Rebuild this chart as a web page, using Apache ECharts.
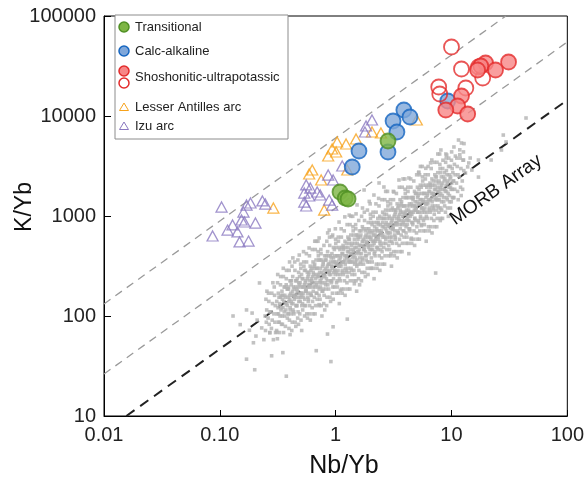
<!DOCTYPE html>
<html>
<head>
<meta charset="utf-8">
<script src="https://cdn.jsdelivr.net/npm/echarts@6/dist/echarts.min.js"></script>
<style>
  html, body { margin: 0; padding: 0; background: #fff; }
  #chart { width: 587px; height: 479px; }
</style>
</head>
<body>
<div id="chart"></div>
<script>
// Nb/Yb vs K/Yb discrimination diagram

const xTickLabels = ['0.01', '0.10', '1', '10', '100'];
const yTickLabels = ['10', '100', '1000', '10000', '100000'];

// Reference trends [Nb/Yb, K/Yb]
const upperLine = [[0.01, 132], [29.5, 100000]];
const lowerLine = [[0.01, 26.3], [100, 55000]];
const morbLine = [[0.0156, 10], [100, 14450]];

const transitional = [[1.09, 1738], [1.21, 1514], [1.28, 1479], [2.83, 5623]];

const calcAlkaline = [
  [3.88, 11482], [4.38, 9772], [3.13, 8913], [3.38, 6918],
  [1.59, 4467], [1.39, 3090], [2.83, 4365], [9.29, 14125]
];

const shoshoniticFilled = [
  [31.1, 34674], [19.7, 33884], [17.9, 31623], [16.8, 28840], [24.0, 28840],
  [12.2, 15849], [11.3, 12589], [8.93, 11482], [13.8, 10471]
];

const shoshoniticOpen = [
  [10.0, 48978], [12.2, 29512], [18.6, 23988], [7.76, 19498],
  [7.92, 16596], [13.3, 19055], [17.1, 30903]
];

const lesserAntilles = [
  [0.290, 1202], [0.591, 2630], [0.628, 2884], [0.750, 2291], [0.796, 1148],
  [0.862, 3981], [0.933, 4677], [1.01, 4365], [1.03, 5495], [1.23, 5248],
  [1.50, 5888], [2.06, 6918], [2.46, 6761], [5.02, 9120], [1.26, 2884]
];

const izu = [
  [0.1035, 1230], [0.0866, 631], [0.1166, 724], [0.1288, 813], [0.142, 692],
  [0.154, 912], [0.160, 1096], [0.170, 1288], [0.184, 1349], [0.203, 851],
  [0.148, 550], [0.177, 562], [0.233, 1413], [0.247, 1318], [0.163, 871],
  [0.557, 2042], [0.604, 1905], [0.536, 1698], [0.536, 1380], [0.557, 1259],
  [0.591, 1585], [0.736, 1622], [0.862, 2570], [0.951, 2291], [0.879, 1445],
  [0.933, 1288], [1.14, 3162], [1.79, 6918], [1.83, 7943], [2.06, 9120],
  [0.693, 1738]
];

// MORB compilation, grouped in narrow Nb/Yb bins: [Nb/Yb values], [K/Yb values]
const morbBins = [
  [[.250,.254,.246,.252,.248,.255],[147,115,100,86.7,71.6,177]],
  [[.265,.269,.261,.267,.263,.270],[140,110,95.3,82.6,169,68.3]],
  [[.281,.285,.277,.283,.279,.287],[169,133,110,90.9,75.1,215]],
  [[.297,.301,.293,.299,.295,.303],[161,127,105,86.7,195,68.3]],
  [[.315,.320,.310,.318,.312,.321,.309,.316,.314],[215,169,140,121,105,86.7,71.6,260,59.2]],
  [[.334,.339,.329,.337,.331,.341,.327,.335,.333],[205,161,133,115,100,82.6,68.3,248,154]],
  [[.354,.359,.349,.357,.351,.361,.347,.355,.353],[248,195,161,140,121,100,82.6,68.3,300]],
  [[.375,.381,.369,.378,.372,.383,.368,.376,.374],[236,186,154,133,115,95.3,78.8,286,205]],
  [[.397,.403,.391,.400,.394,.405,.389,.399,.395,.402,.392,.404],[286,225,186,161,140,121,105,90.9,75.1,147,195,65.1]],
  [[.420,.426,.414,.423,.417,.428,.412,.422,.418,.425,.415,.427],[315,248,205,161,133,115,105,86.7,71.6,177,225,381]],
  [[.445,.452,.438,.449,.441,.454,.436,.447,.443,.450,.440,.453],[286,225,186,161,147,127,105,86.7,347,195,154,78.8]],
  [[.472,.479,.465,.476,.468,.481,.463,.474,.470,.478,.466,.480],[363,273,236,195,169,154,127,110,95.3,82.6,177,215]],
  [[.500,.508,.493,.504,.496,.510,.490,.502,.498,.506,.494,.509],[300,260,215,169,154,127,105,90.9,330,195,140,71.6]],
  [[.530,.538,.522,.534,.526,.541,.519,.532,.528,.536,.524,.539],[347,286,236,195,154,127,115,315,440,205,169,100]],
  [[.561,.569,.553,.566,.557,.572,.550,.563,.559,.568,.554,.571],[347,273,225,195,177,154,127,105,420,236,186,95.3]],
  [[.594,.603,.585,.599,.589,.606,.582,.596,.592,.601,.587,.604],[400,315,260,225,195,169,147,127,105,205,273,90.9]],
  [[.629,.638,.620,.634,.624,.642,.616,.632,.627,.637,.622,.640],[462,347,300,248,215,195,161,140,121,105,225,273]],
  [[.667,.677,.657,.672,.662,.680,.654,.670,.664,.675,.659,.678],[462,363,300,236,195,169,154,127,105,260,330,559]],
  [[.706,.717,.695,.712,.700,.720,.692,.709,.703,.714,.698,.718],[440,363,300,248,195,161,147,400,559,260,215,127]],
  [[.748,.759,.737,.754,.742,.763,.733,.751,.745,.757,.739,.761],[420,363,300,236,215,177,147,127,462,273,195,100]],
  [[.792,.804,.780,.798,.786,.808,.776,.795,.789,.802,.782,.805],[508,400,330,286,248,215,186,161,133,260,347,115]],
  [[.839,.852,.826,.846,.832,.856,.822,.842,.836,.849,.829,.853],[559,440,363,286,236,205,186,154,127,315,400,677]],
  [[.889,.902,.876,.896,.882,.907,.871,.893,.885,.900,.878,.904],[508,400,330,286,260,225,186,154,615,347,273,140]],
  [[.942,.956,.928,.950,.934,.961,.923,.946,.938,.953,.931,.958],[645,484,420,347,300,273,225,195,169,147,315,381]],
  [[.998,1.013,.983,1.006,.990,1.018,.978,1.002,.994,1.010,.986,1.015],[586,484,400,330,260,215,195,533,745,347,286,169]],
  [[1.057,1.073,1.041,1.065,1.049,1.078,1.036,1.061,1.053,1.070,1.044,1.075],[559,484,400,315,286,236,195,169,615,363,260,133]],
  [[1.12,1.137,1.103,1.129,1.111,1.142,1.098,1.124,1.116,1.133,1.107,1.139],[615,484,400,347,315,273,225,186,745,420,330,169]],
  [[1.186,1.204,1.168,1.195,1.177,1.21,1.162,1.191,1.181,1.2,1.172,1.206],[710,559,462,400,347,300,260,225,186,363,484,161]],
  [[1.256,1.275,1.237,1.266,1.246,1.281,1.231,1.261,1.251,1.271,1.241,1.277],[820,615,533,440,381,347,286,248,215,186,400,484]],
  [[1.331,1.351,1.311,1.342,1.32,1.358,1.304,1.336,1.326,1.347,1.315,1.354],[820,645,533,420,347,300,273,225,186,462,586,993]],
  [[1.41,1.431,1.389,1.421,1.399,1.438,1.382,1.416,1.404,1.427,1.393,1.434],[781,645,533,440,347,286,260,710,993,462,381,225]],
  [[1.493,1.515,1.471,1.505,1.481,1.523,1.463,1.499,1.487,1.511,1.475,1.518],[745,645,533,420,381,315,260,225,820,484,347,177]],
  [[1.582,1.606,1.558,1.595,1.569,1.614,1.55,1.588,1.576,1.601,1.563,1.609],[902,710,586,508,440,381,330,286,236,462,615,205]],
  [[1.676,1.701,1.651,1.689,1.663,1.71,1.642,1.683,1.669,1.696,1.656,1.705],[993,781,645,508,420,363,330,273,225,559,710,1202]],
  [[1.775,1.802,1.748,1.789,1.761,1.811,1.74,1.782,1.768,1.796,1.754,1.805],[902,710,586,508,462,400,330,273,1092,615,484,248]],
  [[1.88,1.908,1.852,1.895,1.865,1.918,1.842,1.888,1.872,1.903,1.857,1.912],[1146,860,745,615,533,484,400,347,300,260,559,677]],
  [[1.992,2.022,1.962,2.008,1.976,2.032,1.952,2.0,1.984,2.016,1.968,2.026],[1041,860,710,586,462,381,347,946,1322,615,508,300]],
  [[2.11,2.142,2.078,2.127,2.093,2.152,2.068,2.118,2.102,2.135,2.085,2.146],[993,860,710,559,508,420,347,300,1092,645,462,236]],
  [[2.235,2.269,2.201,2.253,2.217,2.28,2.19,2.244,2.226,2.262,2.208,2.273],[1092,860,710,615,559,484,400,330,1322,745,586,300]],
  [[2.368,2.404,2.332,2.387,2.349,2.415,2.321,2.377,2.359,2.396,2.34,2.408],[1261,993,820,710,615,533,462,400,330,645,860,286]],
  [[2.508,2.546,2.47,2.528,2.488,2.558,2.458,2.518,2.498,2.538,2.478,2.551],[1455,1092,946,781,677,615,508,440,381,330,710,860]],
  [[2.657,2.697,2.617,2.678,2.636,2.71,2.604,2.668,2.646,2.689,2.625,2.702],[1455,1146,946,745,615,533,484,400,330,820,1041,1762]],
  [[2.814,2.856,2.772,2.837,2.791,2.87,2.758,2.825,2.803,2.848,2.78,2.862],[1387,1146,946,781,615,508,462,1261,1762,820,677,400]],
  [[2.981,3.026,2.936,3.005,2.957,3.041,2.921,2.993,2.969,3.017,2.945,3.032],[1322,1146,946,745,677,559,462,400,1455,860,615,315]],
  [[3.158,3.205,3.111,3.183,3.133,3.221,3.095,3.171,3.145,3.196,3.12,3.212],[1455,1146,946,820,745,645,533,440,1762,993,781,400]],
  [[3.345,3.395,3.295,3.372,3.318,3.412,3.278,3.358,3.332,3.385,3.305,3.402],[1680,1322,1092,946,820,710,615,533,440,860,1146,381]],
  [[3.544,3.597,3.491,3.572,3.516,3.615,3.473,3.558,3.53,3.587,3.502,3.604],[1939,1455,1261,1041,902,820,677,586,508,440,946,1146]],
  [[3.754,3.81,3.698,3.784,3.724,3.829,3.679,3.769,3.739,3.799,3.709,3.818],[1939,1527,1261,993,820,710,645,533,440,1092,1387,2348]],
  [[3.976,4.036,3.916,4.008,3.944,4.056,3.896,3.992,3.96,4.024,3.928,4.044],[1849,1527,1261,1041,820,677,615,1680,2348,1092,902,533]],
  [[4.212,4.275,4.149,4.246,4.178,4.296,4.128,4.229,4.195,4.263,4.161,4.284],[1762,1527,1261,993,902,745,615,533,1939,1146,820,420]],
  [[4.462,4.529,4.395,4.498,4.426,4.551,4.373,4.48,4.444,4.516,4.409,4.538],[1939,1527,1261,1092,993,860,710,586,2348,1322,1041,533]],
  [[4.726,4.797,4.655,4.764,4.688,4.821,4.631,4.745,4.707,4.783,4.669,4.806],[2239,1762,1455,1261,1092,946,820,710,586,1146,1527,508]],
  [[5.006,5.081,4.931,5.046,4.966,5.106,4.906,5.026,4.986,5.066,4.946,5.091],[2584,1939,1680,1387,1202,1092,902,781,677,586,1261,1527]],
  [[5.303,5.383,5.223,5.345,5.261,5.409,5.197,5.324,5.282,5.367,5.239,5.393],[2584,2034,1680,1322,1092,946,860,710,586,1455,1849,3129]],
  [[5.618,5.702,5.534,5.663,5.573,5.73,5.506,5.64,5.596,5.685,5.551,5.714],[2463,2034,1680,1387,1092,902,820,2239,3129,1455,1202,710]],
  [[5.951,6.04,5.862,5.999,5.903,6.07,5.832,5.975,5.927,6.022,5.88,6.052],[2348,2034,1680,1322,1202,993,820,710,2584,1527,1092,559]],
  [[6.304,6.399,6.209,6.354,6.254,6.43,6.178,6.329,6.279,6.38,6.228,6.411],[2584,2034,1680,1455,1322,1146,946,781,3129,1762,1387,710]],
  [[6.678,6.778,6.578,6.731,6.625,6.812,6.544,6.705,6.651,6.758,6.598,6.792],[2983,2348,1939,1680,1455,1261,1092,946,781,1527,2034,677]],
  [[7.074,7.18,6.968,7.131,7.017,7.215,6.933,7.102,7.046,7.159,6.989,7.194],[3444,2584,2239,1849,1601,1455,1202,1041,902,781,1680,2034]],
  [[7.493,7.605,7.381,7.553,7.433,7.643,7.343,7.523,7.463,7.583,7.403,7.62],[3444,2711,2239,1762,1455,1261,1146,946,781,1939,2463,4170]],
  [[7.937,8.056,7.818,8.0,7.874,8.096,7.778,7.969,7.905,8.032,7.842,8.072],[3283,2711,2239,1849,1455,1202,1092,2983,4170,1939,1601,946]],
  [[8.408,8.534,8.282,8.475,8.341,8.576,8.24,8.442,8.374],[2983,2463,2134,1849,1601,1387,1146,3612,946]],
  [[8.906,9.04,8.772,8.977,8.835,9.084,8.728,8.942,8.87],[3444,2844,2348,2034,1762,1527,1261,4170,1092]],
  [[9.434,9.576,9.292,9.509,9.359,9.623,9.245,9.472,9.396],[3129,2584,2239,1939,1680,1387,1202,3789,993]],
  [[9.994,10.14,9.844,10.07,9.914,10.19,9.794,10.03,9.954],[3612,2983,2463,2134,1849,1527,1202,4374,1387]],
  [[10.59,10.75,10.43,10.67,10.51,10.8],[3283,2584,2239,1849,1527,3975]],
  [[11.21,11.38,11.04,11.3,11.12,11.43],[3129,2584,2134,1762,3789,1455]],
  [[11.88,12.06,11.7,11.97,11.79,12.12],[3789,2983,2463,1939,4589,1601]],
  [[12.58,12.77,12.39,12.68,12.48,12.83],[3612,2844,2239,4374,1849,5297]]
];

// densest part of the MORB band
const morbCoreBins = [
  [[.324,.327,.321,.326],[154,127,105,86.7]],
  [[.344,.347,.341,.346],[177,147,121,100]],
  [[.364,.368,.360,.366],[161,133,110,195]],
  [[.386,.390,.382,.388],[186,154,127,105]],
  [[.409,.413,.405,.411],[169,140,115,225]],
  [[.432,.436,.428,.434],[195,161,133,110]],
  [[.458,.463,.453,.460],[225,186,154,127]],
  [[.486,.491,.481,.488],[205,169,140,248]],
  [[.515,.520,.510,.518],[236,195,161,133]],
  [[.545,.550,.540,.548],[215,177,147,286]],
  [[.577,.583,.571,.580],[248,205,169,140]],
  [[.611,.617,.605,.614],[286,236,195,161]],
  [[.647,.653,.641,.650],[260,215,177,315]],
  [[.686,.693,.679,.689],[300,248,205,169]],
  [[.727,.734,.720,.731],[273,225,186,363]],
  [[.770,.778,.762,.774],[315,260,215,177]],
  [[.815,.823,.807,.819],[363,300,248,205]],
  [[.863,.872,.854,.867],[330,273,225,400]],
  [[.915,.924,.906,.920],[381,315,260,215]],
  [[.969,.979,.959,.974],[347,286,236,462]],
  [[1.027,1.037,1.017,1.032],[400,330,273,225]],
  [[1.088,1.099,1.077,1.093],[462,381,315,260]],
  [[1.152,1.164,1.140,1.158],[420,347,286,508]],
  [[1.221,1.233,1.209,1.227],[484,400,330,273]],
  [[1.293,1.306,1.280,1.299],[440,363,300,586]],
  [[1.370,1.384,1.356,1.377],[508,420,347,286]],
  [[1.451,1.466,1.436,1.458],[586,484,400,330]],
  [[1.537,1.552,1.522,1.545],[533,440,363,645]],
  [[1.628,1.644,1.612,1.636],[615,508,420,347]],
  [[1.725,1.742,1.708,1.734],[559,462,381,745]],
  [[1.827,1.845,1.809,1.836],[645,533,440,363]],
  [[1.935,1.954,1.916,1.945],[745,615,508,420]],
  [[2.050,2.071,2.030,2.060],[677,559,462,820]],
  [[2.171,2.193,2.149,2.182],[781,645,533,440]],
  [[2.300,2.323,2.277,2.312],[710,586,484,946]],
  [[2.437,2.461,2.413,2.449],[820,677,559,462]],
  [[2.581,2.607,2.555,2.594],[946,781,645,533]],
  [[2.734,2.761,2.707,2.748],[860,710,586,1041]],
  [[2.896,2.925,2.867,2.910],[993,820,677,559]],
  [[3.068,3.099,3.037,3.083],[902,745,615,1202]],
  [[3.250,3.283,3.218,3.266],[1041,860,710,586]],
  [[3.442,3.476,3.408,3.459],[1202,993,820,677]],
  [[3.647,3.683,3.611,3.665],[1092,902,745,1322]],
  [[3.863,3.902,3.824,3.882],[1261,1041,860,710]],
  [[4.092,4.133,4.051,4.112],[1146,946,781,1527]],
  [[4.334,4.377,4.291,4.356],[1322,1092,902,745]],
  [[4.591,4.637,4.545,4.614],[1527,1261,1041,860]],
  [[4.863,4.912,4.814,4.887],[1387,1146,946,1680]],
  [[5.151,5.203,5.099,5.177],[1601,1322,1092,902]],
  [[5.457,5.512,5.402,5.484],[1455,1202,993,1939]],
  [[5.781,5.839,5.723,5.810],[1680,1387,1146,946]],
  [[6.124,6.185,6.063,6.155],[1939,1601,1322,1092]],
  [[6.487,6.552,6.422,6.519],[1762,1455,1202,2134]],
  [[6.872,6.941,6.803,6.906],[2034,1680,1387,1146]],
  [[7.279,7.352,7.206,7.315],[1849,1527,1261,2463]],
  [[7.710,7.787,7.633,7.749],[2134,1762,1455,1202]],
  [[8.167,8.249,8.085,8.208],[2463,2034,1680,1387]],
  [[8.652,8.739,8.565,8.695],[2239,1849,1527,2711]],
  [[9.165,9.257,9.073,9.211],[2584,2134,1762,1455]],
  [[9.708,9.805,9.611,9.757],[2348,1939,1601,3129]],
  [[10.28,10.38,10.18,10.33],[2711,2239,1849,1527]]
];

// scattered MORB samples away from the main band
const morbScatter = [
  [0.13,100],[0.17,115],[0.2,29],[0.17,37],[0.19,107],[0.21,91],[0.23,76],[0.195,54],[0.205,63],[0.24,58],
  [0.27,68],[0.29,58],[0.31,69],[0.28,40],[0.375,25],[0.35,43],[0.22,214],[0.15,82],[0.18,72],
  [0.68,45],[0.85,66],[0.91,35],[0.95,78],[1.26,93],[0.72,130],[1.1,180],[1.45,210],[2.0,300],[3.0,420],
  [4.5,600],[7.3,269],[8.0,900],[5.5,800],
  [2.37,2140],[2.61,1950],[2.14,1620],[1.76,1820],[3.18,1740],[6.76,3630],[4.29,2400],[5.22,2750],[1.53,1290],
  [1.31,1020],[1.07,870],[0.88,724],[0.72,603],[0.59,479],[0.485,407],[0.40,347],[3.52,2290],[8.1,4570],
  [9.1,4070],[0.66,560],[0.93,620],[1.2,980],[1.5,1050],[1.95,1400],[2.35,1500],[6.0,3000],[5.2,2700],
  [9.0,3800],[6.6,3400],
  [10.5,4900],[11.5,5750],[12.2,5370],[12.7,3630],[14.1,3390],[13.2,2690],[15.0,2880],[17.1,3630],[17.1,2450],
  [22,3630],[27,4570],[28,6450],[29.6,5500],[44,9550],[11.8,4100],[14.5,3800],[13.8,3100]
];

const morbPoints = [];
[morbBins, morbCoreBins].forEach(bins => bins.forEach(([nb, k]) =>
  nb.forEach((v, i) => { if (i < k.length) morbPoints.push([v, k[i]]); })));
morbScatter.forEach(p => morbPoints.push(p));

const FONT = '"Liberation Sans", Arial, sans-serif';

const chart = echarts.init(document.getElementById('chart'), null, { renderer: 'canvas' });

function refLine(data, color, width, dash) {
  return {
    type: 'line', data: data, symbol: 'none', silent: true, z: 1,
    lineStyle: { color: color, width: width, type: dash }
  };
}

function openTriangles(name, data, color) {
  return {
    name: name, type: 'scatter', data: data, symbol: 'triangle', symbolSize: [11, 10], z: 3,
    itemStyle: { color: 'rgba(255,255,255,0)', borderColor: color, borderWidth: 1.3 }
  };
}

function circles(name, data, fill, stroke, z) {
  return {
    name: name, type: 'scatter', data: data, symbol: 'circle', symbolSize: 15, z: z,
    itemStyle: { color: fill, borderColor: stroke, borderWidth: 1.8 }
  };
}

// legend drawn as graphic elements (two markers share the shoshonitic entry)
const legendX = 124, legendTextX = 135;
function legendText(y, text) {
  return { type: 'text', x: legendTextX, y: y, z: 20,
    style: { text: text, font: '13px ' + FONT, fill: '#222', textVerticalAlign: 'middle' } };
}
function legendCircle(y, fill, stroke) {
  return { type: 'circle', shape: { cx: legendX, cy: y, r: 5 }, z: 20,
    style: { fill: fill, stroke: stroke, lineWidth: 1.5 } };
}
function legendTriangle(y, stroke) {
  return { type: 'polygon', shape: { points: [[legendX, y - 4], [legendX + 4.5, y + 3.5], [legendX - 4.5, y + 3.5]] }, z: 20,
    style: { fill: 'none', stroke: stroke, lineWidth: 1 } };
}

const option = {
  animation: false,
  backgroundColor: '#fff',
  grid: { left: 104, right: 18, top: 16, bottom: 63, show: true, borderColor: '#000', borderWidth: 1 },
  xAxis: {
    type: 'log', logBase: 10, min: 0.01, max: 100,
    axisLine: { lineStyle: { color: '#000', width: 1 } },
    axisTick: { inside: true, length: 6, lineStyle: { color: '#000' } },
    splitLine: { show: false },
    axisLabel: { color: '#222', fontSize: 20, fontFamily: FONT, margin: 9,
      formatter: (v, i) => xTickLabels[i] }
  },
  yAxis: {
    type: 'log', logBase: 10, min: 10, max: 100000,
    axisLine: { lineStyle: { color: '#000', width: 1 } },
    axisTick: { inside: true, length: 7, lineStyle: { color: '#000' } },
    splitLine: { show: false },
    axisLabel: { color: '#222', fontSize: 20, fontFamily: FONT, margin: 8,
      formatter: (v, i) => yTickLabels[i] }
  },
  series: [
    refLine(upperLine, '#9a9a9a', 1.3, [8, 6]),
    refLine(lowerLine, '#9a9a9a', 1.3, [8, 6]),
    {
      name: 'MORB', type: 'scatter', data: morbPoints, symbol: 'rect', symbolSize: 3.6, z: 2,
      silent: true, large: false, itemStyle: { color: '#b3b3b3' }
    },
    refLine(morbLine, '#222', 2, [10, 7]),
    openTriangles('Lesser Antilles arc', lesserAntilles, '#f7a21b'),
    openTriangles('Izu arc', izu, '#8a78c0'),
    circles('Calc-alkaline', calcAlkaline, '#7fa7da', '#1565c0', 4),
    circles('Transitional', transitional, '#7db544', '#4f8f23', 5),
    circles('Shoshonitic-ultrapotassic (open)', shoshoniticOpen, 'rgba(255,255,255,0)', '#e32b2b', 6),
    circles('Shoshonitic-ultrapotassic', shoshoniticFilled, '#f78686', '#e32b2b', 7)
  ],
  graphic: [
    { type: 'text', x: 25, y: 207, rotation: Math.PI / 2, z: 20,
      style: { text: 'K/Yb', font: '23px ' + FONT, fill: '#111', textAlign: 'center', textVerticalAlign: 'middle' } },
    { type: 'text', x: 344, y: 466, z: 20,
      style: { text: 'Nb/Yb', font: '25px ' + FONT, fill: '#111', textAlign: 'center', textVerticalAlign: 'middle' } },
    { type: 'text', x: 496, y: 190, rotation: 35.5 * Math.PI / 180, z: 20,
      style: { text: 'MORB Array', font: '19px ' + FONT, fill: '#111', textAlign: 'center', textVerticalAlign: 'middle' } },
    { type: 'rect', shape: { x: 115, y: 15, width: 173, height: 124 }, z: 19,
      style: { fill: '#fff', stroke: '#8c8c8c', lineWidth: 1 } },
    legendCircle(27, '#7db544', '#4f8f23'), legendText(27, 'Transitional'),
    legendCircle(51, '#7fa7da', '#1565c0'), legendText(51, 'Calc-alkaline'),
    legendCircle(71, '#f78686', '#e32b2b'), legendCircle(83, 'rgba(255,255,255,0)', '#e32b2b'),
    legendText(77, 'Shoshonitic-ultrapotassic'),
    legendTriangle(107, '#f7a21b'), legendText(107, 'Lesser Antilles arc'),
    legendTriangle(126, '#8a78c0'), legendText(126, 'Izu arc')
  ]
};

chart.setOption(option);
</script>
</body>
</html>
